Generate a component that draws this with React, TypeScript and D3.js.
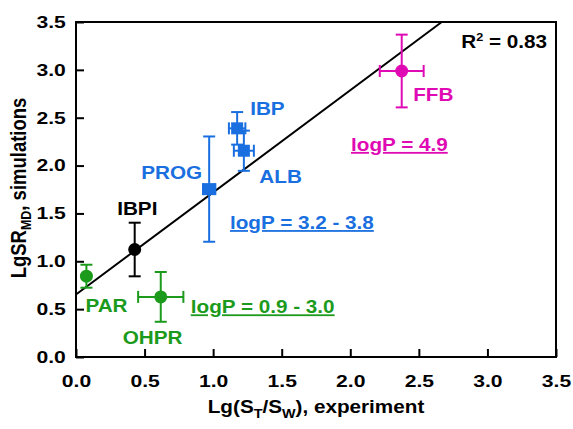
import React, { useEffect, useRef } from 'react';
import * as d3 from 'd3';

// points
const names = ['PAR', 'IBPI', 'OHPR', 'PROG', 'IBP', 'ALB', 'FFB'];
const groups = ['low', 'mid', 'low', 'high', 'high', 'high', 'top'];
const shapes = ['circle', 'circle', 'circle', 'square', 'square', 'square', 'circle'];
const xVals = [0.076, 0.428, 0.618, 0.971, 1.175, 1.224, 2.375];
const yVals = [0.844, 1.123, 0.628, 1.754, 2.389, 2.155, 2.988];
const xErr = [0, 0, 0.165, 0.045, 0.06, 0.073, 0.16];
const yErr = [0.12, 0.28, 0.26, 0.55, 0.17, 0.21, 0.38];

// regression
const slope = 1.0675;
const intercept = 0.653;
const r2Label = '0.83';

// logP group notes
const noteGroups = ['top', 'high', 'low'];
const noteTexts = ['logP = 4.9', 'logP = 3.2 - 3.8', 'logP = 0.9 - 3.0'];

const ticks = [0, 0.5, 1, 1.5, 2, 2.5, 3, 3.5];

const groupColor: Record<string, string> = {
  low: '#1c9a1c',
  mid: '#000000',
  high: '#1a6fe0',
  top: '#e00ab4',
};

const FONT = "'Liberation Sans', Arial, sans-serif";
const SX = 1.15; // text in the original is a little wide

const App = () => {
  const ref = useRef<SVGSVGElement>(null);

  useEffect(() => {
    const width = 573;
    const height = 429;
    const margin = { top: 22, right: 17, bottom: 72, left: 76 };
    const innerW = width - margin.left - margin.right;
    const innerH = height - margin.top - margin.bottom;

    const svg = d3.select(ref.current);
    svg.selectAll('*').remove();

    const x = d3.scaleLinear().domain([0, 3.5]).range([0, innerW]);
    const y = d3.scaleLinear().domain([0, 3.5]).range([innerH, 0]);

    const g = svg.append('g').attr('transform', `translate(${margin.left},${margin.top})`);

    const addText = (parent: any, px: number, py: number, txt: string, color: string, anchor = 'start', size = 18) =>
      parent.append('g')
        .attr('transform', `translate(${px},${py}) scale(${SX},1)`)
        .append('text')
        .attr('text-anchor', anchor)
        .style('font-family', FONT)
        .style('font-size', `${size}px`)
        .style('font-weight', 'bold')
        .attr('fill', color)
        .text(txt);

    // 坐标轴
    const xAxis = g.append('g')
      .attr('transform', `translate(0,${innerH})`)
      .call(d3.axisBottom(x).tickValues(ticks).tickSizeInner(-8).tickSizeOuter(0).tickPadding(18).tickFormat(d3.format('.1f')));
    const yAxis = g.append('g')
      .call(d3.axisLeft(y).tickValues(ticks).tickSizeInner(-8).tickSizeOuter(0).tickPadding(8).tickFormat(d3.format('.1f')));
    [xAxis, yAxis].forEach(a => {
      a.select('.domain').remove();
      a.selectAll('.tick line').attr('stroke', '#000').attr('stroke-width', 2);
      a.selectAll('text')
        .attr('transform', 'scale(1.28,1)')
        .style('font-family', FONT)
        .style('font-size', '16.5px')
        .style('font-weight', 'bold')
        .attr('fill', '#000');
    });

    // frame
    g.append('rect')
      .attr('width', innerW)
      .attr('height', innerH)
      .attr('fill', 'none')
      .attr('stroke', '#000')
      .attr('stroke-width', 2);

    // regression line
    const xEnd = (3.5 - intercept) / slope;
    g.append('line')
      .attr('x1', x(0)).attr('y1', y(intercept))
      .attr('x2', x(xEnd)).attr('y2', y(3.5))
      .attr('stroke', '#000')
      .attr('stroke-width', 2);

    const data = names.map((n, i) => ({
      name: n, group: groups[i], shape: shapes[i],
      x: xVals[i], y: yVals[i], ex: xErr[i], ey: yErr[i],
    }));

    // error bars
    const cap = 6;
    data.forEach(d => {
      const c = groupColor[d.group];
      const eg = g.append('g').attr('stroke', c).attr('stroke-width', 2);
      const cx = x(d.x), cy = y(d.y);
      if (d.ey > 0) {
        eg.append('line').attr('x1', cx).attr('x2', cx).attr('y1', y(d.y - d.ey)).attr('y2', y(d.y + d.ey));
        [d.y - d.ey, d.y + d.ey].forEach(v => {
          eg.append('line').attr('x1', cx - cap).attr('x2', cx + cap).attr('y1', y(v)).attr('y2', y(v));
        });
      }
      if (d.ex > 0) {
        eg.append('line').attr('y1', cy).attr('y2', cy).attr('x1', x(d.x - d.ex)).attr('x2', x(d.x + d.ex));
        [d.x - d.ex, d.x + d.ex].forEach(v => {
          eg.append('line').attr('y1', cy - cap).attr('y2', cy + cap).attr('x1', x(v)).attr('x2', x(v));
        });
      }
    });

    // markers
    data.forEach(d => {
      const c = groupColor[d.group];
      if (d.shape === 'square') {
        g.append('rect')
          .attr('x', x(d.x) - 6).attr('y', y(d.y) - 6)
          .attr('width', 12).attr('height', 12)
          .attr('fill', c);
      } else {
        g.append('circle')
          .attr('cx', x(d.x)).attr('cy', y(d.y))
          .attr('r', 6.5)
          .attr('fill', c);
      }
    });

    // point labels (offsets in px from marker)
    const labelOffset: Record<string, [number, number, string]> = {
      PAR: [-1, 35.5, 'start'],
      IBPI: [-17.5, -34.5, 'start'],
      OHPR: [-38, 47, 'start'],
      PROG: [-7, -10, 'end'],
      IBP: [13, -13.3, 'start'],
      ALB: [15.5, 32.6, 'start'],
      FFB: [11.5, 30, 'start'],
    };
    data.forEach(d => {
      const [dx, dy, anchor] = labelOffset[d.name];
      addText(g, x(d.x) + dx, y(d.y) + dy, d.name, groupColor[d.group], anchor);
    });

    // logP notes (underlined), placed near a member of the group
    const noteAnchor: Record<string, [string, number, number]> = {
      top: ['FFB', -50.7, 80],
      high: ['PROG', 20.8, 40],
      low: ['OHPR', 30, 16.5],
    };
    noteGroups.forEach((grp, i) => {
      const [nm, dx, dy] = noteAnchor[grp];
      const ref = data.find(d => d.name === nm)!;
      addText(g, x(ref.x) + dx, y(ref.y) + dy, noteTexts[i], groupColor[grp])
        .style('text-decoration', 'underline');
    });

    // R2
    const r2 = addText(g, innerW - 9, 26.3, '', '#000', 'end');
    r2.append('tspan').text('R');
    r2.append('tspan').attr('dy', -7).style('font-size', '11px').text('2');
    r2.append('tspan').attr('dy', 7).text(` = ${r2Label}`);

    // axis titles
    const xt = addText(svg, 316, 413, '', '#000', 'middle');
    xt.append('tspan').text('Lg(S');
    xt.append('tspan').attr('dy', 5).style('font-size', '12.5px').text('T');
    xt.append('tspan').attr('dy', -5).text('/S');
    xt.append('tspan').attr('dy', 5).style('font-size', '12.5px').text('W');
    xt.append('tspan').attr('dy', -5).text('), experiment');

    const yt = svg.append('g')
      .attr('transform', `translate(25.5,188) rotate(-90) scale(1,${SX})`)
      .append('text')
      .attr('text-anchor', 'middle')
      .style('font-family', FONT)
      .style('font-size', '18.5px')
      .style('font-weight', 'bold')
      .attr('fill', '#000');
    yt.append('tspan').text('LgSR');
    yt.append('tspan').attr('dy', 5).style('font-size', '12.5px').text('MD');
    yt.append('tspan').attr('dy', -5).text(', simulations');
  }, []);

  return (
    <svg
      ref={ref}
      width={573}
      height={429}
      style={{ position: 'absolute', left: 0, top: 0, background: '#fff' }}
    />
  );
};

export default App;
